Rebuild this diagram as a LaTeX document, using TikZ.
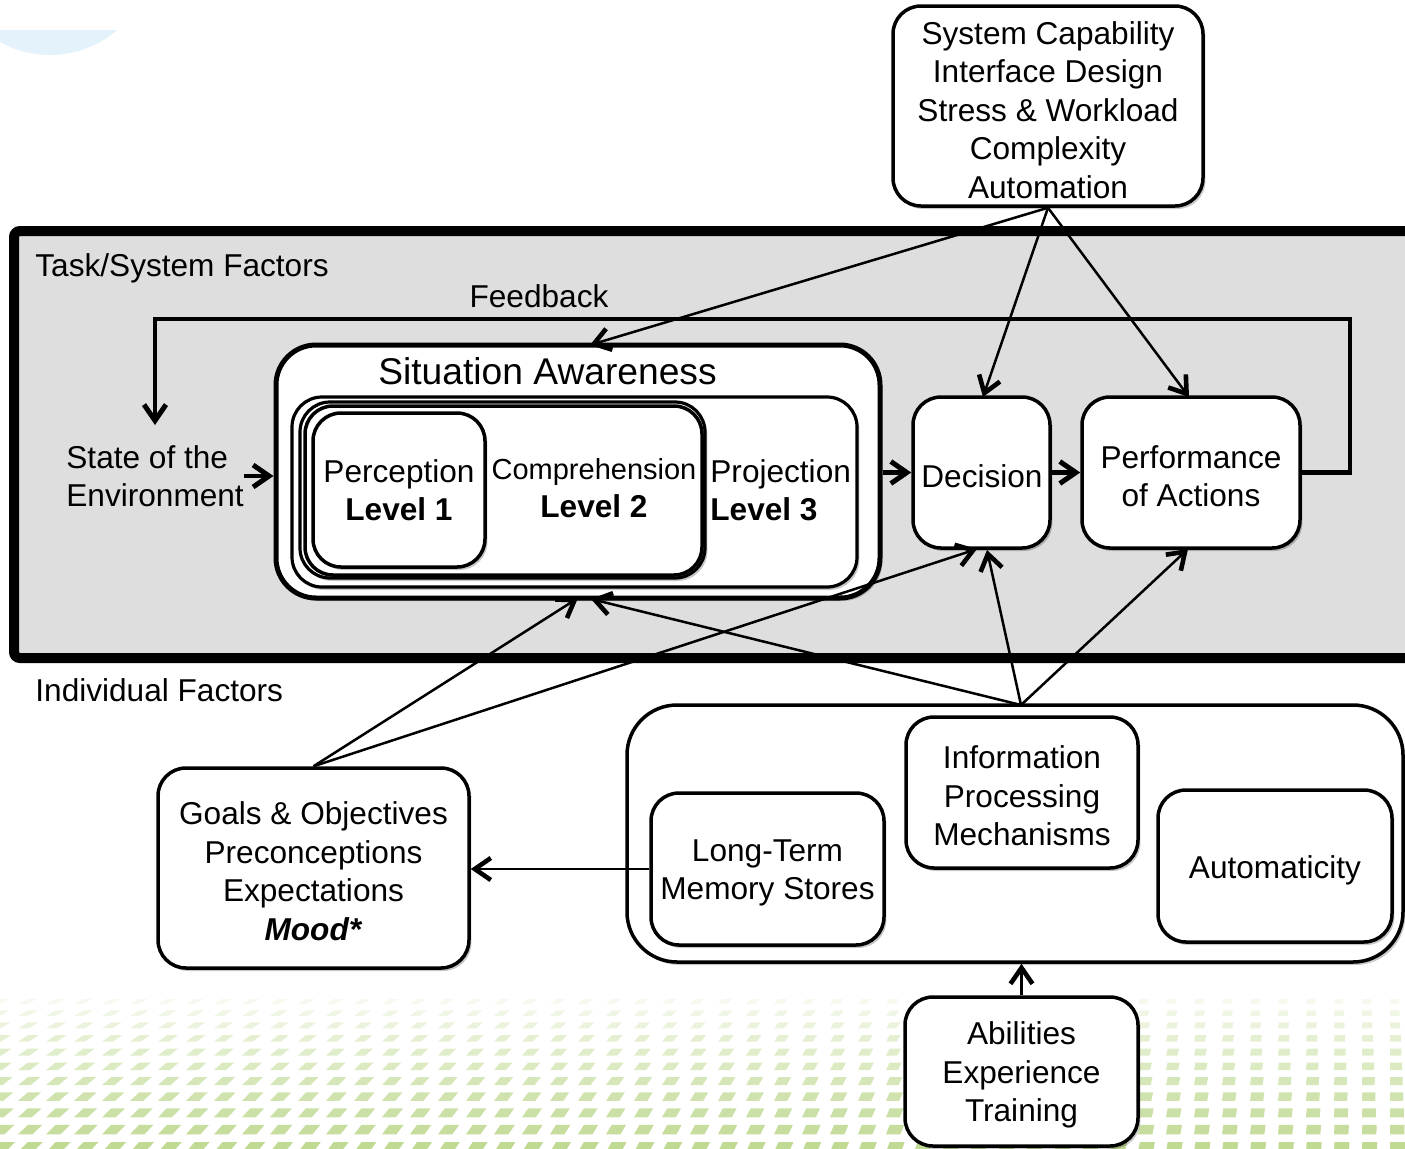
\documentclass[tikz,border=0pt]{standalone}
\usepackage{fontspec}
\setmainfont{Liberation Sans}
\usetikzlibrary{arrows.meta,shadows,calc}
\definecolor{framegray}{HTML}{DEDEDE}
\definecolor{patgreen}{HTML}{BDD88E}
\definecolor{bgblue}{HTML}{E4F2FB}
\begin{document}
\begin{tikzpicture}[x=0.5pt,y=-0.5pt,
  every node/.style={font=\fontsize{15.8}{19.25}\selectfont},
  shade/.style={drop shadow={shadow xshift=1.2pt,shadow yshift=-1.5pt,opacity=0.22,fill=black}},
  box/.style={draw,line width=1.75pt,rounded corners=14pt,fill=white,align=center,inner sep=0pt,shade},
  lbl/.style={inner sep=0pt,align=center},
  conn/.style={line width=1.25pt,-{Straight Barb[length=8pt,width=11pt,line width=2.3pt]}},
  thickarr/.style={line width=2.4pt,-{Straight Barb[length=8pt,width=11pt,line width=2.5pt]}},
  fbline/.style={line width=2.4pt,line join=miter,-{Straight Barb[length=8pt,width=11pt,line width=2.5pt]}}]
\useasboundingbox (0,0) rectangle (1405,1148);
% background decoration
\begin{scope}
  \clip (0,0) rectangle (1405,1148);
  \begin{scope}
    \clip (0,30) rectangle (250,200);
    \fill[bgblue] (50,-48) circle[radius=103];
  \end{scope}
  \foreach \j in {0,...,10}{
    \pgfmathsetmacro\yy{1152-18*\j+0.32*\j*\j}
    \pgfmathsetmacro\hh{10-0.5*\j}
    \pgfmathsetmacro\ww{15-0.6*\j}
    \pgfmathsetmacro\op{0.95-0.08*\j}
    \foreach \i in {0,...,51}{
      \pgfmathsetmacro\xx{-10+28*\i}
      \pgfmathsetmacro\sl{10*(1-\xx/1405)}
      \fill[patgreen,opacity=\op] (\xx,\yy) -- ++(\ww,0) -- ++(\sl,-\hh) -- ++(-\ww,0) -- cycle;
    }
  }
  \path[draw,line width=5pt,fill=framegray,rounded corners=3pt,shade] (14,231) rectangle (1430,658);
\end{scope}

% top factors
\node[box,minimum width=155pt,minimum height=100pt] (tf) at (1048,106) {};
\node[lbl] (tft) at (1048,110)
  {System Capability\\Interface Design\\Stress \& Workload\\Complexity\\Automation};

% labels
\node[lbl,anchor=west] (tsf) at (35,268) {Task/System Factors};
\node[lbl] (fbk) at (539,296) {Feedback};
\node[lbl,anchor=west,align=left] (env) at (66,476) {State of the\\Environment};
\node[lbl,anchor=west] (indf) at (35,690) {Individual Factors};

% situation awareness
\node[box,line width=2.5pt,rounded corners=20pt,minimum width=302pt,minimum height=126.5pt] (sa) at (578,471.5) {};
\node[lbl,font=\fontsize{18.6}{22}\selectfont] (satitle) at (547.5,371) {Situation Awareness};
\node[box,line width=1.6pt,rounded corners=15pt,minimum width=282.5pt,minimum height=95pt] (l3) at (574.5,492) {};
\node[box,line width=1.6pt,rounded corners=15pt,minimum width=202.5pt,minimum height=88pt] (l2a) at (502.5,490) {};
\node[box,line width=1.75pt,rounded corners=14pt,minimum width=198.5pt,minimum height=84.5pt] (l2b) at (503.5,490.5) {};
\node[box,minimum width=86pt,minimum height=77pt] (l1) at (399,490) {Perception\\\textbf{Level 1}};
\node[lbl,font=\fontsize{14.5}{19.25}\selectfont] (l2t) at (594,488)
  {Comprehension\\{\fontsize{15.8}{19.25}\selectfont\textbf{Level 2}}};
\node[lbl,anchor=west,align=left] (l3t) at (710,490) {Projection\\\textbf{Level 3}};

% decision and performance
\node[box,minimum width=68.5pt,minimum height=75.5pt] (dec) at (981.5,472.5) {};
\node[lbl] (dect) at (982,476) {Decision};
\node[box,minimum width=109pt,minimum height=75.5pt] (perf) at (1191,472.5) {};
\node[lbl] (perft) at (1191,476) {Performance\\of Actions};

% individual factors
\node[box,minimum width=155.5pt,minimum height=100pt] (goals) at (313.5,868) {};
\node[lbl] (goalst) at (313.5,871)
  {Goals \& Objectives\\Preconceptions\\Expectations\\\textbf{\textit{Mood*}}};
\node[box,rounded corners=25pt,minimum width=388pt,minimum height=128.5pt] (cont) at (1015,833.5) {};
\node[box,minimum width=116pt,minimum height=75.5pt] (info) at (1022,792.5) {};
\node[lbl] (infot) at (1022,796) {Information\\Processing\\Mechanisms};
\node[box,minimum width=116.5pt,minimum height=76pt] (ltm) at (767.5,869) {};
\node[lbl] (ltmt) at (767.5,873) {Long-Term\\Memory Stores};
\node[box,minimum width=117pt,minimum height=76pt] (auto) at (1275,866) {};
\node[lbl] (autot) at (1275,870) {Automaticity};
\node[box,minimum width=116.5pt,minimum height=74.5pt] (abil) at (1021.5,1071.5) {};
\node[lbl] (abilt) at (1021.5,1075) {Abilities\\Experience\\Training};

% connector end points
\coordinate (saT) at (590,345);
\coordinate (decT) at (983,397);
\coordinate (perfT) at (1189,397);
\coordinate (saB1) at (578,598);
\coordinate (saB2) at (591,599);
\coordinate (decB1) at (977,549);
\coordinate (decB2) at (987,550);
\coordinate (perfB) at (1188,549);
\coordinate (apex) at (1021,705);
\coordinate (fbR) at (1350,319);
\coordinate (fbL) at (155,319);
\coordinate (fbE) at (155,425);

% connectors
\draw[fbline] (perf.east) -| (fbR) -- (fbL) -- (fbE);
\draw[thickarr] (env.east) -- (env.east -| sa.west);
\draw[thickarr] (sa.east |- dec.west) -- (dec.west);
\draw[thickarr] (dec.east) -- (perf.west);
\draw[conn] (tf.south) -- (saT);
\draw[conn] (tf.south) -- (decT);
\draw[conn] (tf.south) -- (perfT);
\draw[conn] (goals.north) -- (saB1);
\draw[conn] (goals.north) -- (decB1);
\draw[conn] (apex) -- (saB2);
\draw[conn] (apex) -- (decB2);
\draw[conn] (apex) -- (perfB);
\draw[conn] (ltm.west) -- (ltm.west -| goals.east);
\draw[conn] (abil.north) -- (cont.south -| abil.north);
\end{tikzpicture}
\end{document}
